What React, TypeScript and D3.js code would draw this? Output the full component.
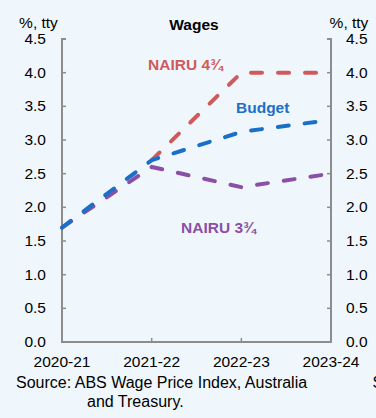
import React from "react";
import * as d3 from "d3";

const categories = ["2020-21", "2021-22", "2022-23", "2023-24"];
const budget = [1.7, 2.7, 3.12, 3.3];
const nairu434 = [null, 2.7, 4.0, 4.0];
const nairu334 = [1.7, 2.6, 2.3, 2.5];
const yTicks = [0, 0.5, 1, 1.5, 2, 2.5, 3, 3.5, 4, 4.5];

const W = 376, H = 418;
const left = 62, right = 331, top = 39, bottom = 342;

export default function App() {
  const x = d3.scalePoint<string>().domain(categories).range([left, right]);
  const y = d3.scaleLinear().domain([0, 4.5]).range([bottom, top]);
  const line = d3
    .line<number | null>()
    .defined((d) => d != null)
    .x((_, i) => x(categories[i]) as number)
    .y((d) => y(d as number));
  const font = "Liberation Sans, Arial, sans-serif";
  const axisColor = "#8c8c8c";
  const dash = "11 16";
  const fs = 15.5;
  return (
    <svg
      width={W}
      height={H}
      style={{ position: "fixed", left: 0, top: 0, background: "#f0f7fc" }}
      fontFamily={font}
    >
      <rect width={W} height={H} fill="#f0f7fc" />
      <text x={194} y={30} textAnchor="middle" fontSize={fs} fontWeight="bold" fill="#000">Wages</text>
      <text x={38.5} y={28} textAnchor="middle" fontSize={fs} fill="#000">%, tty</text>
      <text x={349} y={28} textAnchor="middle" fontSize={fs} fill="#000">%, tty</text>
      {/* axes */}
      <path d={`M${left + 4},${top}H${left}V${bottom}H${right}V${top}H${right - 4}`} fill="none" stroke={axisColor} strokeWidth={2} />
      {yTicks.map((t) => (
        <g key={t}>
          <line x1={left} x2={left + 4} y1={y(t)} y2={y(t)} stroke={axisColor} strokeWidth={1.5} />
          <line x1={right} x2={right - 4} y1={y(t)} y2={y(t)} stroke={axisColor} strokeWidth={1.5} />
          <text x={46} y={y(t) + 5} textAnchor="end" fontSize={fs} fill="#000">{t.toFixed(1)}</text>
          <text x={346} y={y(t) + 5} textAnchor="start" fontSize={fs} fill="#000">{t.toFixed(1)}</text>
        </g>
      ))}
      {categories.map((c, i) => (
        <g key={c}>
          {i > 0 && i < categories.length - 1 && (
            <line x1={x(c)} x2={x(c)} y1={bottom} y2={bottom - 4} stroke={axisColor} strokeWidth={1.5} />
          )}
          <text x={x(c)} y={367} textAnchor="middle" fontSize={fs} fill="#000">{c}</text>
        </g>
      ))}
      {/* lines */}
      <path d={line(nairu334) || ""} fill="none" stroke="#8a4fa6" strokeWidth={4} strokeLinecap="round" strokeDasharray={dash} />
      <path d={line(nairu434) || ""} fill="none" stroke="#cf5a5c" strokeWidth={4} strokeLinecap="round" strokeDasharray={dash} />
      <path d={line(budget) || ""} fill="none" stroke="#1a70c8" strokeWidth={4} strokeLinecap="round" strokeDasharray={dash} />
      <text x={148} y={70} fontSize={fs} fontWeight="bold" fill="#cf5a5c">NAIRU  4¾</text>
      <text x={236} y={113} fontSize={fs} fontWeight="bold" fill="#1a70c8">Budget</text>
      <text x={181} y={233} fontSize={fs} fontWeight="bold" fill="#8a4fa6">NAIRU  3¾</text>
      <text x={16} y={388} fontSize={16} fill="#000">Source: ABS Wage Price Index, Australia</text>
      <text x={87} y={407} fontSize={16} fill="#000">and Treasury.</text>
      <text x={372.5} y={388} fontSize={16} fill="#000">S</text>
    </svg>
  );
}
